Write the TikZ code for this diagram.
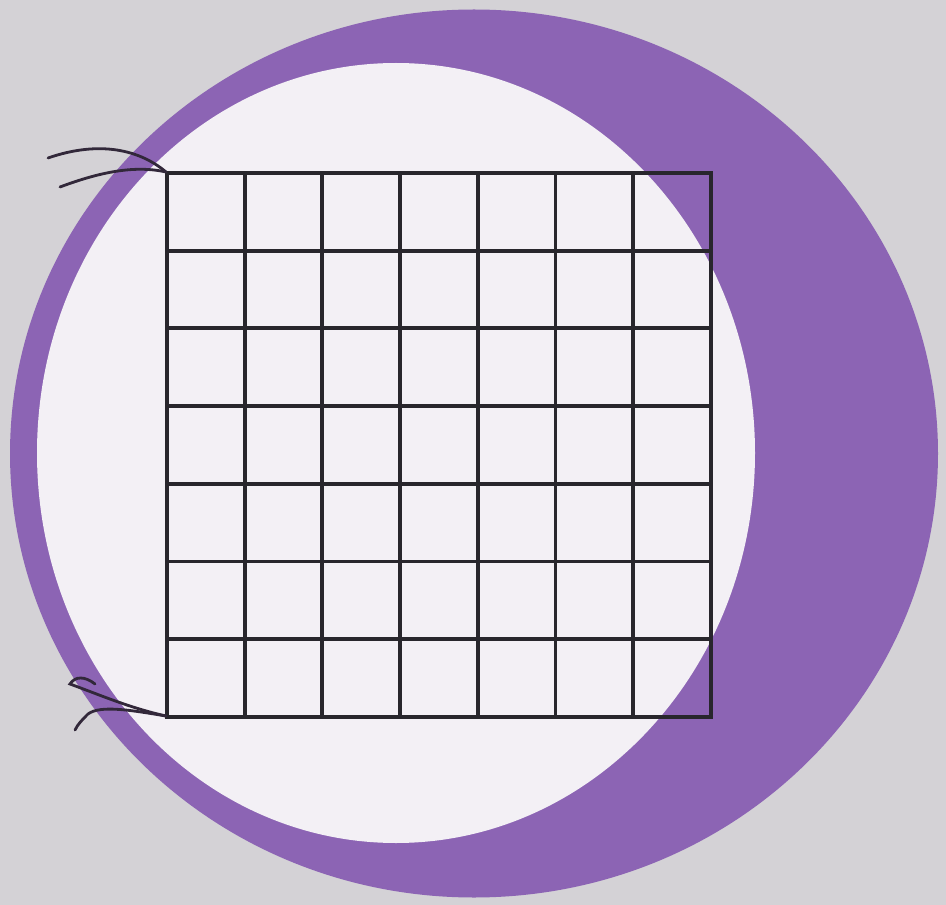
\documentclass[tikz,border=0pt]{standalone}
\definecolor{bggray}{RGB}{212,210,214}
\definecolor{ringpurple}{RGB}{140,100,180}
\definecolor{innerwhite}{RGB}{243,240,245}
\definecolor{gridink}{RGB}{40,38,44}
\definecolor{stringink}{RGB}{50,40,58}
\tikzset{
  gridline/.style={draw=gridink, line width=3.3pt, line cap=rect},
  strand/.style={draw=stringink, line width=2.4pt, line cap=round},
}
\begin{document}
\begin{tikzpicture}[x=0.03cm,y=-0.03cm]
  % background
  \fill[bggray] (0,0) rectangle (946,905);
  \useasboundingbox (0,0) rectangle (946,905);
  % purple disc
  \fill[ringpurple] (474,453.5) ellipse [x radius=464, y radius=444];
  % white inner offset disc
  \fill[innerwhite] (396,453) ellipse [x radius=359, y radius=390];
  % 7x7 grid
  \foreach \i in {0,...,7} {
    \draw[gridline] ({167+\i*77.7},173) -- ({167+\i*77.7},717);
    \draw[gridline] (167,{173+\i*77.7}) -- (711,{173+\i*77.7});
  }
  % string ties at top-left corner
  \coordinate (tl) at (166,172);
  \draw[strand] (tl) .. controls (140,150) and (100,140) .. (48,158);
  \draw[strand] (tl) .. controls (135,165) and (100,172) .. (60,187);
  % string ties at bottom-left corner
  \coordinate (bl) at (166,716);
  \draw[strand] (bl) .. controls (130,708) and (100,695) .. (70,684)
        .. controls (75,676) and (85,676) .. (95,684);
  \draw[strand] (bl) .. controls (130,710) and (100,705) .. (88,714)
        .. controls (82,720) and (78,724) .. (75,730);
\end{tikzpicture}
\end{document}
